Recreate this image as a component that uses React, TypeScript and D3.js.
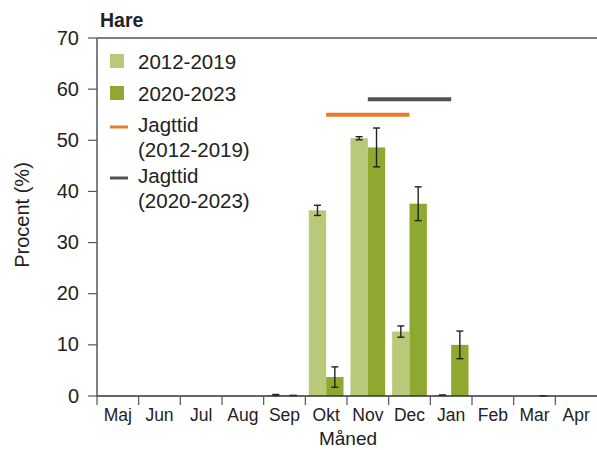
import React from "react";
import * as d3 from "d3";

const months = ["Maj", "Jun", "Jul", "Aug", "Sep", "Okt", "Nov", "Dec", "Jan", "Feb", "Mar", "Apr"];
const seriesNames = ["2012-2019", "2020-2023"];
const values2012 = [0, 0, 0, 0, 0.2, 36.3, 50.4, 12.6, 0.15, 0, 0, 0];
const errors2012 = [0, 0, 0, 0, 0.1, 1.0, 0.3, 1.1, 0.05, 0, 0, 0];
const values2020 = [0, 0, 0, 0, 0.1, 3.7, 48.6, 37.6, 10.0, 0, 0.05, 0];
const errors2020 = [0, 0, 0, 0, 0, 2.0, 3.8, 3.3, 2.7, 0, 0, 0];
const huntStart = ["Okt", "Nov"];
const huntEnd = ["Dec", "Jan"];
const huntLevel = [55, 58];
const yTicks = [0, 10, 20, 30, 40, 50, 60, 70];

const W = 597;
const H = 450;
const left = 97;
const right = 597;
const top = 38;
const bottom = 396;
const font = "'Liberation Sans', Arial, sans-serif";
const colLight = "#b8c97a";
const colDark = "#8ea830";
const huntColors = ["#ea7a26", "#555049"];

export default function App() {
  const x = d3.scaleBand<string>().domain(months).range([left, right]).padding(0);
  const x1 = d3.scaleBand<string>().domain(seriesNames).range([0, x.bandwidth()]).paddingInner(0).paddingOuter(0.2);
  const y = d3.scaleLinear().domain([0, 70]).range([bottom, top]);
  const series = [
    { name: seriesNames[0], vals: values2012, errs: errors2012, color: colLight },
    { name: seriesNames[1], vals: values2020, errs: errors2020, color: colDark },
  ];
  const bw = x1.bandwidth();

  return (
    <svg width={W} height={H} style={{ display: "block", position: "absolute", left: 0, top: 0 }} fontFamily={font}>
      <rect width={W} height={H} fill="#fff" />
      <text x={100} y={27} fontSize={19.5} fontWeight="bold" fill="#222">Hare</text>

      {/* bars */}
      {series.map((s) =>
        months.map((m, i) => (
          <rect key={s.name + m} x={(x(m) as number) + (x1(s.name) as number)} y={y(s.vals[i])}
            width={bw} height={bottom - y(s.vals[i])} fill={s.color} />
        ))
      )}

      {/* error bars */}
      {series.map((s) =>
        months.map((m, i) => {
          if (s.vals[i] <= 0) return null;
          const cx = (x(m) as number) + (x1(s.name) as number) + bw / 2;
          const y0 = y(Math.max(0, s.vals[i] - s.errs[i]));
          const y1v = y(s.vals[i] + s.errs[i]);
          return (
            <g key={"e" + s.name + m} stroke="#222" strokeWidth={1.4}>
              <line x1={cx} x2={cx} y1={y0} y2={y1v} />
              <line x1={cx - 3.5} x2={cx + 3.5} y1={y0} y2={y0} />
              <line x1={cx - 3.5} x2={cx + 3.5} y1={y1v} y2={y1v} />
            </g>
          );
        })
      )}

      {/* hunting periods */}
      {huntLevel.map((lv, i) => (
        <line key={"h" + i} x1={(x(huntStart[i]) as number) + x.bandwidth() / 2}
          x2={(x(huntEnd[i]) as number) + x.bandwidth() / 2}
          y1={y(lv)} y2={y(lv)} stroke={huntColors[i]} strokeWidth={4} />
      ))}

      {/* axes */}
      <line x1={left} x2={left} y1={top} y2={bottom} stroke="#555" strokeWidth={1.5} />
      <line x1={left} x2={right} y1={top} y2={top} stroke="#555" strokeWidth={1.5} />
      <line x1={left} x2={right} y1={bottom} y2={bottom} stroke="#333" strokeWidth={1.5} />
      {yTicks.map((t) => (
        <g key={"yt" + t}>
          <line x1={left - 9} x2={left} y1={y(t)} y2={y(t)} stroke="#555" strokeWidth={1.2} />
          <text x={79} y={y(t) + 6.5} fontSize={20} textAnchor="end" fill="#222">{t}</text>
        </g>
      ))}
      {months.map((m) => (
        <g key={"xt" + m}>
          <line x1={x(m) as number} x2={x(m) as number} y1={bottom} y2={bottom + 9} stroke="#555" strokeWidth={1.2} />
          <text x={(x(m) as number) + x.bandwidth() / 2} y={421} fontSize={17.5} textAnchor="middle" fill="#222">{m}</text>
        </g>
      ))}
      <text x={348} y={445} fontSize={19} textAnchor="middle" fill="#222">Måned</text>
      <text transform={`translate(29,215) rotate(-90)`} fontSize={20} textAnchor="middle" fill="#222">Procent (%)</text>

      {/* legend */}
      <rect x={110} y={54} width={14} height={14} fill={colLight} />
      <text x={138} y={68.5} fontSize={20.5} fill="#222">2012-2019</text>
      <rect x={110} y={86} width={14} height={14} fill={colDark} />
      <text x={138} y={100.5} fontSize={20.5} fill="#222">2020-2023</text>
      <line x1={110} x2={128} y1={127} y2={127} stroke={huntColors[0]} strokeWidth={3} />
      <text x={138} y={132} fontSize={20.5} fill="#222">Jagttid</text>
      <text x={138} y={157} fontSize={20.5} fill="#222">(2012-2019)</text>
      <line x1={110} x2={128} y1={178} y2={178} stroke={huntColors[1]} strokeWidth={3} />
      <text x={138} y={183} fontSize={20.5} fill="#222">Jagttid</text>
      <text x={138} y={208} fontSize={20.5} fill="#222">(2020-2023)</text>
    </svg>
  );
}
